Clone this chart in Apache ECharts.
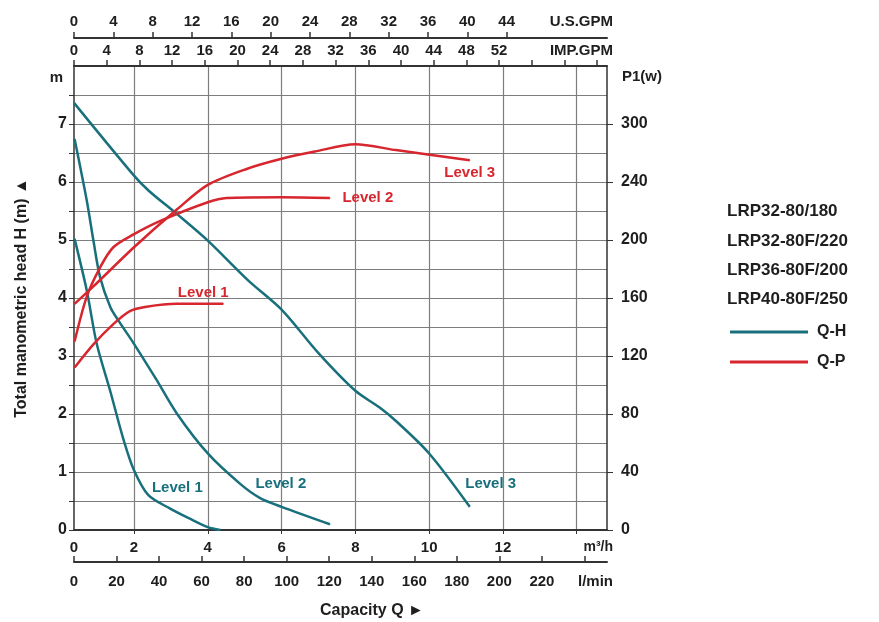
<!DOCTYPE html>
<html>
<head>
<meta charset="utf-8">
<title>Q-H / Q-P pump curves</title>
<script src="https://cdn.jsdelivr.net/npm/echarts@6/dist/echarts.min.js"></script>
<style>
	html, body { margin: 0; padding: 0; background: #fff; }
	#main { width: 879px; height: 622px; }
</style>
</head>
<body>
<div id="main"></div>
<script>
	// flow in m3/h, head in m
	var qhLevel1 = [[0.39, 5.02], [0.72, 4.13], [0.99, 3.21], [1.35, 2.41], [1.72, 1.55], [2.0, 1.03], [2.39, 0.60], [2.98, 0.37], [3.5, 0.2], [4.0, 0.05], [4.34, 0]];
	var qhLevel2 = [[0.39, 6.74], [0.72, 5.68], [0.9, 4.99], [1.08, 4.36], [1.36, 3.84], [1.58, 3.61], [2.0, 3.21], [2.6, 2.6], [3.16, 2.01], [4.0, 1.32], [4.87, 0.80], [5.42, 0.55], [6.0, 0.40], [7.31, 0.10]];
	var qhLevel3 = [[0.38, 7.36], [2.0, 6.11], [2.4, 5.85], [3.16, 5.45], [4.0, 4.99], [5.1, 4.30], [6.0, 3.80], [7.0, 3.05], [8.0, 2.40], [8.64, 2.12], [9.1, 1.88], [10.0, 1.32], [11.1, 0.40]];
	// flow in m3/h, power P1 in W
	var qpLevel1 = [[0.39, 112], [0.9, 128], [1.44, 142], [1.89, 151], [2.34, 154], [3.16, 156], [4.42, 156]];
	var qpLevel2 = [[0.39, 130], [0.72, 161], [1.08, 181], [1.44, 195], [2.0, 204], [2.7, 213], [4.0, 226], [4.51, 229], [6.0, 229.5], [7.31, 229]];
	var qpLevel3 = [[0.39, 156], [0.9, 168], [2.0, 195], [3.16, 221], [4.0, 238], [5.05, 249], [6.0, 256], [6.9, 261], [8.0, 266], [9.1, 262], [11.1, 255]];

	var models = ['LRP32-80/180', 'LRP32-80F/220', 'LRP36-80F/200', 'LRP40-80F/250'];
	var flowTicks = [2, 4, 6, 8, 10, 12, 14];
	var flowLabels = [0.374, 2, 4, 6, 8, 10, 12];
	var usTicks = [0, 4, 8, 12, 16, 20, 24, 28, 32, 36, 40, 44];
	var powerTicks = [0, 40, 80, 120, 160, 200, 240, 280, 320];
	// the sheet prints 300 on the 7 m line
	var powerLabels = { 0: '0', 40: '40', 80: '80', 120: '120', 160: '160', 200: '200', 240: '240', 280: '300' };

	var TEAL = '#18707c';
	var RED = '#d7262e';
	var FONT = "'Liberation Sans', Arial, sans-serif";

	function txt(size) {
		return { fontFamily: FONT, fontWeight: 'bold', fontSize: size, color: '#1e1e1e' };
	}

	// put a "Level n" text on one point of a curve
	function withLabel(data, idx, color, pos) {
		return data.map(function (d, i) {
			if (i !== idx) return d;
			return {
				value: d,
				label: {
					show: true, formatter: pos.text, position: pos.position,
					distance: pos.distance || 5,
					color: color, fontFamily: FONT, fontWeight: 'bold', fontSize: 15
				}
			};
		});
	}

	function curve(name, data, color, yIndex) {
		return {
			name: name, type: 'line', xAxisIndex: 0, yAxisIndex: yIndex,
			data: data, smooth: 0.3, symbol: 'circle', symbolSize: 1, showSymbol: true,
			lineStyle: { color: color, width: 2.5 }, itemStyle: { color: color },
			silent: true
		};
	}

	var axisDark = { onZero: false, lineStyle: { color: '#333', width: 2 } };
	var gridGray = { show: true, lineStyle: { color: '#7d7d7d', width: 1.2 } };

	function getOption() {
		return {
			backgroundColor: '#fff',
			animation: false,
			grid: { left: 74, right: 272, top: 66, bottom: 92, containLabel: false, outerBoundsMode: 'none' },
			title: {
				text: models.join('\n'), left: 722, top: 192,
				textStyle: { fontFamily: FONT, fontWeight: 'bold', fontSize: 17, color: '#1e1e1e', lineHeight: 29.3 }
			},
			legend: {
				orient: 'vertical', left: 725, top: 319, itemWidth: 78, itemHeight: 3, itemGap: 14,
				icon: 'rect', selectedMode: false,
				textStyle: { fontFamily: FONT, fontWeight: 'bold', fontSize: 16, color: '#1e1e1e', padding: [0, 0, 0, 4] },
				data: ['Q-H', 'Q-P']
			},
			graphic: [{
				type: 'text', left: 320, top: 603,
				style: { text: 'Capacity Q ►', font: 'bold 16px ' + FONT, fill: '#1e1e1e' }
			}],
			xAxis: [{
				// m3/h, carries the curves
				type: 'value', position: 'bottom', min: 0.374, max: 14.82,
				name: 'm³/h', nameLocation: 'end', nameGap: 6,
				nameTextStyle: Object.assign(txt(14), { align: 'right', verticalAlign: 'top', padding: [10, 0, 0, 0] }),
				axisLine: axisDark,
				axisTick: { show: true, customValues: flowTicks, length: 4, lineStyle: { color: '#333' } },
				axisLabel: Object.assign(txt(15), {
					customValues: flowLabels, margin: 10,
					formatter: function (v) { return v < 1 ? '0' : String(v); }
				}),
				splitLine: gridGray
			}, {
				type: 'value', position: 'bottom', offset: 32, min: 0, max: 250.6, interval: 20,
				name: 'l/min', nameLocation: 'end', nameGap: 6,
				nameTextStyle: Object.assign(txt(15), { align: 'right', verticalAlign: 'top', padding: [12, 0, 0, 0] }),
				axisLine: axisDark,
				axisTick: { show: true, inside: true, length: 6, lineStyle: { color: '#333', width: 1.5 } },
				axisLabel: Object.assign(txt(15), {
					margin: 12, showMaxLabel: false,
					formatter: function (v) { return v > 230 ? '' : String(v); }
				}),
				splitLine: { show: false }
			}, {
				type: 'value', position: 'top', offset: 0, min: 0, max: 65.2, interval: 4,
				name: 'IMP.GPM', nameLocation: 'end', nameGap: 6,
				nameTextStyle: Object.assign(txt(15), { align: 'right', verticalAlign: 'bottom', padding: [0, 0, 8, 0] }),
				axisLine: axisDark,
				axisTick: { show: true, length: 6, lineStyle: { color: '#333', width: 1.5 } },
				axisLabel: Object.assign(txt(15), {
					margin: 8, showMaxLabel: false,
					formatter: function (v) { return v > 54 ? '' : String(v); }
				}),
				splitLine: { show: false }
			}, {
				type: 'value', position: 'top', offset: 28, min: 0, max: 54.2, interval: 4,
				name: 'U.S.GPM', nameLocation: 'end', nameGap: 6,
				nameTextStyle: Object.assign(txt(15), { align: 'right', verticalAlign: 'bottom', padding: [0, 0, 9, 0] }),
				axisLine: axisDark,
				axisTick: { show: true, customValues: usTicks, length: 6, lineStyle: { color: '#333', width: 1.5 } },
				axisLabel: Object.assign(txt(15), {
					margin: 9, showMaxLabel: false,
					formatter: function (v) { return v > 46 ? '' : String(v); }
				}),
				splitLine: { show: false }
			}],
			yAxis: [{
				type: 'value', position: 'left', min: 0, max: 8, interval: 0.5,
				name: 'm', nameLocation: 'end', nameGap: -12,
				nameTextStyle: Object.assign(txt(15), { align: 'right', verticalAlign: 'middle', padding: [0, 11, 0, 0] }),
				axisLine: { show: true, onZero: false, lineStyle: { color: '#333', width: 1.5 } },
				axisTick: { show: true, length: 5, lineStyle: { color: '#333' } },
				axisLabel: Object.assign(txt(16), {
					margin: 7, showMaxLabel: false,
					formatter: function (v) { return (v % 1 === 0 && v < 8) ? String(v) : ''; }
				}),
				splitLine: gridGray
			}, {
				// name of the head axis drawn as a second, label-less left axis
				type: 'value', position: 'left', min: 0, max: 8, show: true,
				name: 'Total manometric head H (m) ▲', nameLocation: 'middle', nameGap: 44,
				nameTextStyle: txt(16),
				axisLine: { show: false, onZero: false }, axisTick: { show: false }, axisLabel: { show: false },
				splitLine: { show: false }
			}, {
				type: 'value', position: 'right', min: 0, max: 320, interval: 20,
				name: 'P1(w)', nameLocation: 'end', nameGap: -11,
				nameTextStyle: Object.assign(txt(15), { align: 'left', verticalAlign: 'middle', padding: [0, 0, 0, 15] }),
				axisLine: { show: true, onZero: false, lineStyle: { color: '#333', width: 1.5 } },
				axisTick: { show: true, customValues: powerTicks, length: 6, lineStyle: { color: '#333' } },
				axisLabel: Object.assign(txt(16), {
					margin: 14, showMaxLabel: false,
					formatter: function (v) { return powerLabels[v] || ''; }
				}),
				splitLine: { show: false }
			}],
			series: [
				curve('Q-H', withLabel(qhLevel1, 6, TEAL, { text: 'Level 1', position: [4, -14] }), TEAL, 0),
				curve('Q-H', withLabel(qhLevel2, 10, TEAL, { text: 'Level 2', position: 'right', distance: 15 }), TEAL, 0),
				curve('Q-H', withLabel(qhLevel3, qhLevel3.length - 1, TEAL, { text: 'Level 3', position: [-4, -30] }), TEAL, 0),
				curve('Q-P', withLabel(qpLevel1, qpLevel1.length - 1, RED, { text: 'Level 1', position: [-45, -18] }), RED, 2),
				curve('Q-P', withLabel(qpLevel2, qpLevel2.length - 1, RED, { text: 'Level 2', position: 'right', distance: 12 }), RED, 2),
				curve('Q-P', withLabel(qpLevel3, qpLevel3.length - 1, RED, { text: 'Level 3', position: 'bottom', distance: 5 }), RED, 2)
			]
		};
	}

	var chart = echarts.init(document.getElementById('main'), null, { renderer: 'canvas' });
	chart.setOption(getOption());
</script>
</body>
</html>
